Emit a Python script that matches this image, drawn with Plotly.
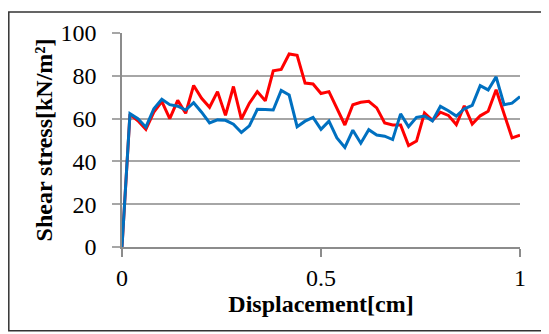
import plotly.graph_objects as go

displacement = [round(0.02 * k, 2) for k in range(51)]
red_stress = [0, 62, 59, 55, 63, 68, 60, 68.5, 62.5, 75.5,
              69.5, 65.3, 72.6, 61.5, 75, 59.8, 67.2, 72.6, 68.3, 82.3,
              83, 90.2, 89.6, 76.6, 76.2, 71.7, 72.6, 65, 57, 66.5,
              67.6, 68.1, 65, 58, 57, 57, 47.4, 49.5, 62.6, 59.2,
              63, 61.5, 57.2, 66, 57.4, 61.3, 63.4, 73.5, 62, 51,
              52.2]
blue_stress = [0, 62.3, 60, 56, 64.6, 69, 66.5, 65.8, 64, 67.4,
               63, 58, 59.4, 59.2, 57.4, 53.5, 56.6, 64.3, 64.2, 64,
               73.2, 71, 56.2, 58.8, 60.6, 55, 58.8, 51, 46.5, 54.6,
               48.5, 54.8, 52.3, 51.8, 50.2, 62.2, 56.2, 60.6, 61.2, 58.9,
               65.7, 63.7, 61.2, 64.6, 66.2, 75.4, 73.4, 79.5, 66.5, 67.2,
               70.3]
x_ticks = [0, 0.5, 1]
x_tick_text = ["0", "0.5", "1"]
y_ticks = [0, 20, 40, 60, 80, 100]

SERIF = "Liberation Serif, Times New Roman, DejaVu Serif, serif"

fig = go.Figure()
fig.add_trace(go.Scatter(x=displacement, y=red_stress, mode="lines",
                         line=dict(color="#FF0000", width=3), showlegend=False))
fig.add_trace(go.Scatter(x=displacement, y=blue_stress, mode="lines",
                         line=dict(color="#0070C0", width=3), showlegend=False))

# page body has an 8px margin, so the figure is offset by 8px
OFF = 8
W, H = 549 - OFF, 334 - OFF
L, R, T, B = 122 - OFF, 29, 30 - OFF, 87
pw, ph = W - L - R, H - T - B

def px(xp):
    return (xp - OFF - L) / pw

def py(yp):
    return (H - B - (yp - OFF)) / ph

fig.add_shape(type="rect", xref="paper", yref="paper",
              x0=px(8.8), x1=px(547.5), y0=py(332), y1=py(8.8),
              line=dict(color="#333333", width=1.5), layer="below")

fig.update_layout(
    width=W, height=H,
    margin=dict(l=L, r=R, t=T, b=B),
    paper_bgcolor="white", plot_bgcolor="white",
    font=dict(family=SERIF, color="black"),
)
fig.update_xaxes(
    range=[0, 1], tickvals=x_ticks, ticktext=x_tick_text,
    showgrid=False, zeroline=False,
    showline=True, linecolor="#8C8C8C", linewidth=1.5,
    ticks="outside", ticklen=8, tickcolor="#8C8C8C", tickwidth=1.5,
    tickfont=dict(size=24, family=SERIF),
    ticklabelstandoff=0,
    title=dict(text="<b>Displacement[cm]</b>", standoff=2,
               font=dict(size=24, family=SERIF)),
)
fig.update_yaxes(
    range=[0, 100], tickvals=y_ticks,
    showgrid=True, gridcolor="#A6A6A6", gridwidth=1.5,
    zeroline=False,
    showline=True, linecolor="#8C8C8C", linewidth=1.5,
    ticks="outside", ticklen=8, tickcolor="#A6A6A6", tickwidth=1.5,
    tickfont=dict(size=24, family=SERIF),
    ticklabelstandoff=11,
    title=dict(text="<b>Shear stress[kN/m²]</b>", standoff=1,
               font=dict(size=24, family=SERIF)),
)

fig.write_html("out.html")
